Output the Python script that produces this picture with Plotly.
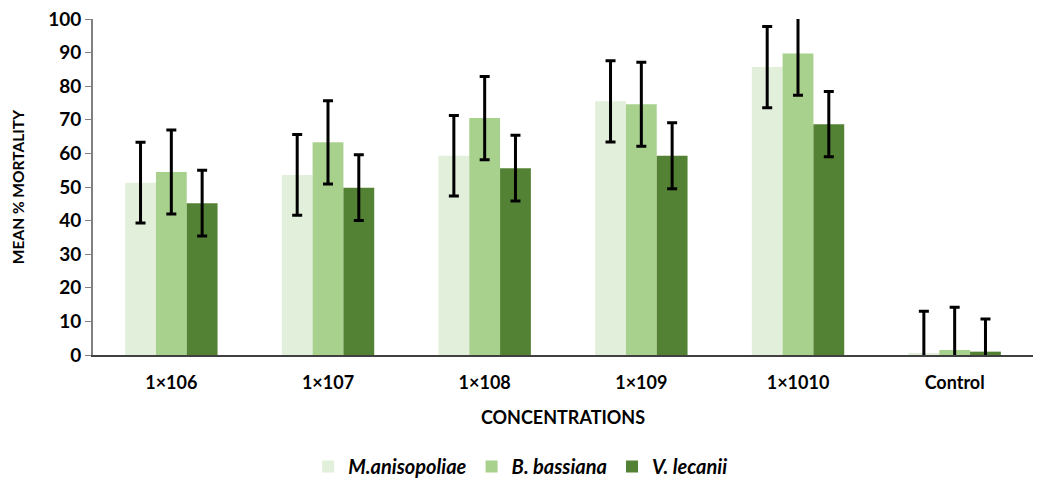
import plotly.graph_objects as go

categories = ["1×106", "1×107", "1×108", "1×109", "1×1010", "Control"]
series_names = ["M.anisopoliae", "B. bassiana", "V. lecanii"]
m_vals = [51.3, 53.6, 59.3, 75.5, 85.7, 0.5]
b_vals = [54.5, 63.3, 70.5, 74.6, 89.7, 1.5]
v_vals = [45.2, 49.8, 55.6, 59.3, 68.7, 1.0]
m_err = [12.0, 12.0, 12.0, 12.1, 12.1, 12.5]
b_err = [12.5, 12.4, 12.4, 12.5, 12.4, 12.7]
v_err = [9.8, 9.8, 9.8, 9.8, 9.7, 9.7]
colors = ["#E2EFDA", "#A9D18E", "#548235"]
y_ticks = [0, 10, 20, 30, 40, 50, 60, 70, 80, 90, 100]

FONT = "Lato"
fig = go.Figure()
for name, vals, errs, col in zip(series_names, [m_vals, b_vals, v_vals], [m_err, b_err, v_err], colors):
    fig.add_trace(go.Bar(
        x=categories, y=vals, name="<b><i>" + name + "</i></b>",
        marker=dict(color=col, line=dict(width=0)),
        error_y=dict(type="data", array=errs, visible=True, color="black", thickness=3, width=5),
    ))

fig.update_layout(
    width=1042, height=486,
    margin=dict(l=93, r=9, t=19, b=131, autoexpand=False),
    paper_bgcolor="white", plot_bgcolor="white",
    barmode="group", bargap=0.41, bargroupgap=0,
    font=dict(family=FONT, color="black"),
    legend=dict(orientation="h", x=0.455, xanchor="center", y=-0.39, yanchor="bottom",
                font=dict(family=FONT, size=20, color="black"), itemwidth=30,
                traceorder="normal"),
    showlegend=True,
)
fig.update_xaxes(
    showline=True, linecolor="#404040", linewidth=2,
    tickfont=dict(family=FONT, size=18, color="black", weight="bold"),
    ticks="", ticklabelstandoff=10,
    title=dict(text="<b>CONCENTRATIONS</b>", font=dict(family=FONT, size=18, color="black"), standoff=20),
)
fig.update_yaxes(
    range=[0, 100], tickvals=y_ticks,
    showline=True, linecolor="#808080", linewidth=2,
    ticks="outside", ticklen=6, tickcolor="#808080", tickwidth=1,
    showgrid=False, zeroline=False,
    tickfont=dict(family=FONT, size=19, color="black", weight="bold"),
    title=dict(text="<b>MEAN % MORTALITY</b>", font=dict(family=FONT, size=15.5, color="black"), standoff=20),
)

fig.write_html("out.html", config={"displayModeBar": False},
               post_script="document.body.style.margin='0';document.body.style.overflow='hidden';")
